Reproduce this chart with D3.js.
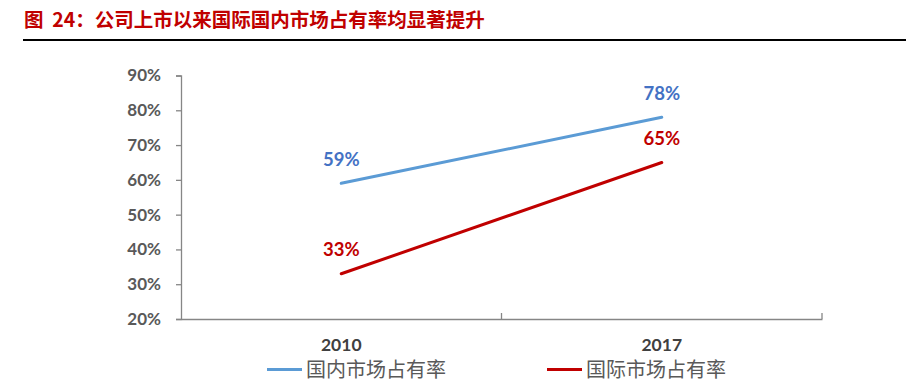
<!DOCTYPE html>
<html><head><meta charset="utf-8">
<script src="https://cdn.jsdelivr.net/npm/d3@7"></script>
<style>
body{margin:0;background:#fff;}
svg{display:block;}
</style></head>
<body>
<svg id="c" width="906" height="385"></svg>
<script>
const title = "图  24：公司上市以来国际国内市场占有率均显著提升";
const categories = ["2010", "2017"];
const seriesNames = ["国内市场占有率", "国际市场占有率"];
const domestic = [0.59, 0.78];
const international = [0.33, 0.65];
const yTicks = [0.2, 0.3, 0.4, 0.5, 0.6, 0.7, 0.8, 0.9];

(function(){
const svg = d3.select("#c");
const latin = "Lato, 'Open Sans', sans-serif";
const cjk = "'Noto Sans CJK SC', sans-serif";

// title
svg.append("text").attr("x", 24).attr("y", 27)
  .attr("font-family", cjk).attr("font-weight", "bold").attr("font-size", 19.5)
  .attr("fill", "#C00000").attr("xml:space","preserve").text(title);
svg.append("line").attr("x1", 23).attr("x2", 906).attr("y1", 40).attr("y2", 40)
  .attr("stroke", "#000").attr("stroke-width", 2);

const mLeft = 181, mRight = 822, mTop = 75.5, mBottom = 319;
const x = d3.scaleBand().domain(categories).range([mLeft, mRight]);
const y = d3.scaleLinear().domain([0.2, 0.9]).range([mBottom, mTop]);
const axisColor = "#868686";

// y axis
const ya = svg.append("g").attr("transform", `translate(${mLeft},0)`)
  .call(d3.axisLeft(y).tickValues(yTicks).tickFormat(d3.format(".0%")).tickSize(5).tickPadding(15));
ya.select(".domain").attr("stroke", axisColor).attr("stroke-width", 1.3);
ya.selectAll(".tick line").attr("stroke", axisColor).attr("stroke-width", 1.3);
ya.selectAll(".tick text").attr("font-family", latin).attr("font-weight", "bold")
  .attr("font-size", 17).attr("fill", "#595959");

// x axis
const xa = svg.append("g").attr("transform", `translate(0,${mBottom})`)
  .call(d3.axisBottom(x).tickSize(0).tickSizeOuter(0));
xa.select(".domain").attr("stroke", axisColor).attr("stroke-width", 1.3);
xa.selectAll(".tick text").attr("font-family", latin).attr("font-weight", "bold")
  .attr("font-size", 17.5).attr("fill", "#404040").attr("y", 31.5).attr("dy", 0);
const bounds = categories.slice(1).map(c => x(c)).concat([mRight]);
svg.selectAll(".bt").data(bounds).enter().append("line")
  .attr("x1", d => d).attr("x2", d => d).attr("y1", mBottom).attr("y2", mBottom - 6)
  .attr("stroke", axisColor).attr("stroke-width", 1.3);

const cx = c => x(c) + x.bandwidth() / 2;
const series = [
  {vals: domestic, line: "#5B9BD5", label: "#4472C4"},
  {vals: international, line: "#C00000", label: "#C00000"}
];
const lineGen = d3.line().x((d, i) => cx(categories[i])).y(d => y(d));
series.forEach(s => {
  svg.append("path").datum(s.vals).attr("d", lineGen).attr("fill", "none")
    .attr("stroke", s.line).attr("stroke-width", 3).attr("stroke-linecap", "round");
  svg.selectAll(null).data(s.vals).enter().append("text")
    .attr("x", (d, i) => cx(categories[i]))
    .attr("y", d => y(d) - 17.5)
    .attr("text-anchor", "middle").attr("font-family", latin).attr("font-weight", "bold")
    .attr("font-size", 18.5).attr("fill", s.label).text(d => d3.format(".0%")(d));
});

// legend
const legX = [267, 547];
seriesNames.forEach((n, i) => {
  const g = svg.append("g").attr("transform", `translate(${legX[i]},369.5)`);
  g.append("line").attr("x1", 0).attr("x2", 35).attr("y1", 0).attr("y2", 0)
    .attr("stroke", series[i].line).attr("stroke-width", 3);
  g.append("text").attr("x", 39).attr("y", 7.5).attr("font-family", cjk)
    .attr("font-size", 20).attr("fill", "#595959").text(n);
});
})();
</script>
</body></html>
